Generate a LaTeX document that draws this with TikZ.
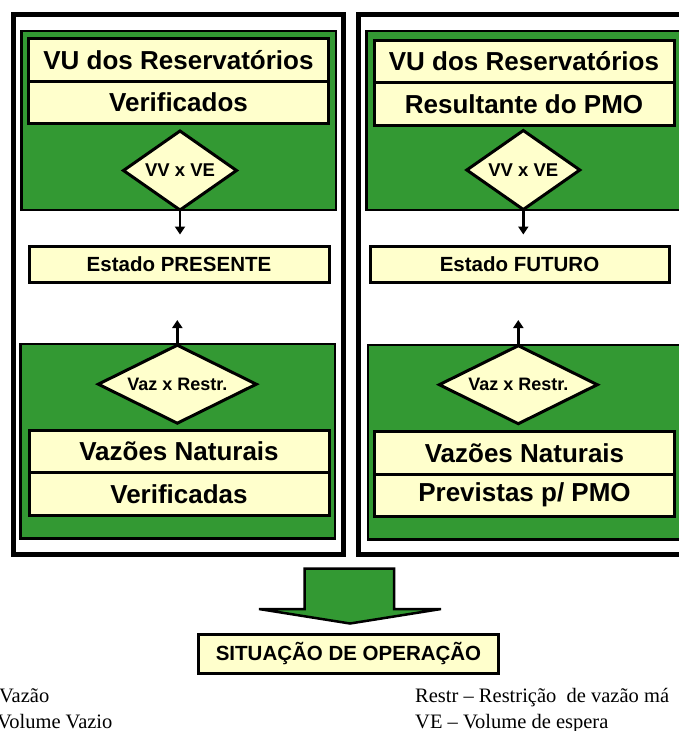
\documentclass[tikz,border=0pt]{standalone}
\usepackage{fontspec}
\setmainfont{Liberation Serif}
\newfontfamily\arialb{Liberation Sans}
\usepackage{tikz}
\usetikzlibrary{positioning,shapes,arrows.meta,calc}
\definecolor{ongreen}{RGB}{51,153,51}
\definecolor{onyellow}{RGB}{255,255,204}
\tikzset{frame box/.style={draw,line width=5pt},
green box/.style={draw,fill=ongreen,line width=2.5pt},
big box/.style={draw,fill=onyellow,line width=3pt,outer sep=0pt,inner
sep=0pt,minimum width=300pt,minimum height=42.5pt,
font=\arialb\bfseries\fontsize{26}{30}\selectfont},
state box/.style={big box,minimum height=36pt,
font=\arialb\bfseries\fontsize{20.5}{24}\selectfont},
test node/.style={diamond,draw,fill=onyellow,line width=3pt,inner sep=0pt,
outer sep=0pt,font=\arialb\bfseries\fontsize{18.5}{21}\selectfont},
small test/.style={test node,aspect=1.4,minimum width=113pt,minimum height=79pt},
wide test/.style={test node,aspect=2,minimum width=158pt,minimum height=78pt,
font=\arialb\bfseries\fontsize{18}{21}\selectfont},
flow/.style={line width=2.5pt,-{Triangle[width=10pt,length=8pt]}},
legend/.style={anchor=base west,inner sep=0pt,font=\fontsize{20.5}{24}\selectfont}}

\begin{document}
\begin{tikzpicture}[x=1pt,y=-1pt]
    \useasboundingbox (0,0) rectangle (678,731);

    \draw[frame box] (13.5,14.5) rectangle (343,554.5);
    \draw[frame box] (358.5,14.5) rectangle (700,554.5);
    \draw[green box] (21.5,31) rectangle (336,210);
    \draw[green box] (20.5,344) rectangle (335,538.5);
    \draw[green box] (366.5,31) rectangle (690,210);
    \draw[green box] (368,345) rectangle (690,539.5);

            \node[big box] (vu1) at (178.5,59.75) {VU dos Reservatórios};
            \node[big box] (vu2) [below=0pt of vu1] {Verificados};
            \node[small test] (dv1) at (180,170.5) {VV x VE};
            \node[state box] (pres) at (179,264.5) {Estado PRESENTE};
            \node[wide test] (dq1) at (177.3,384.2) {Vaz x Restr.};
            \node[big box] (vn1) at (179,451.25) {Vazões Naturais};
            \node[big box] (vn2) [below=0pt of vn1] {Verificadas};

            \node[big box] (vu3) at (524,61.5) {VU dos Reservatórios};
            \node[big box] (vu4) [below=0pt of vu3] {Resultante do PMO};
            \node[small test] (dv2) at (523.3,170) {VV x VE};
            \node[state box,minimum width=299pt] (fut) at (519.5,264.5) {Estado FUTURO};
            \node[wide test] (dq2) at (518.3,384.7) {Vaz x Restr.};
            \node[big box] (vn3) at (524.5,452.75) {Vazões Naturais};
            \node[big box] (vn4) [below=0pt of vn3] {Previstas p/ PMO};

            \path[flow]
            (dv1.south) edge[shorten >=12pt] (dv1.south |- pres.north)
            (dq1.north) edge[shorten >=37.5pt] (dq1.north |- pres.south)
            (dv2.south) edge[shorten >=12pt] (dv2.south |- fut.north)
            (dq2.north) edge[shorten >=37.5pt] (dq2.north |- fut.south);

            \draw[green box,line join=miter] (304.5,568.5) -- (394,568.5) -- (394,609) -- (441,609)
            -- (350,623.5) -- (259,609) -- (304.5,609) -- cycle;
            \node[state box,minimum height=38.5pt] (sit) at (348.5,653.75) {SITUAÇÃO DE OPERAÇÃO};

            \node[legend] (l1) at (-1,702) {Vazão};
            \node[legend] (l2) at (-3,728) {Volume Vazio};
            \node[legend] (l3) at (415,702) {Restr – Restrição\ \ de vazão má};
            \node[legend] (l4) at (415,728) {VE – Volume de espera};

\end{tikzpicture}
\end{document}
